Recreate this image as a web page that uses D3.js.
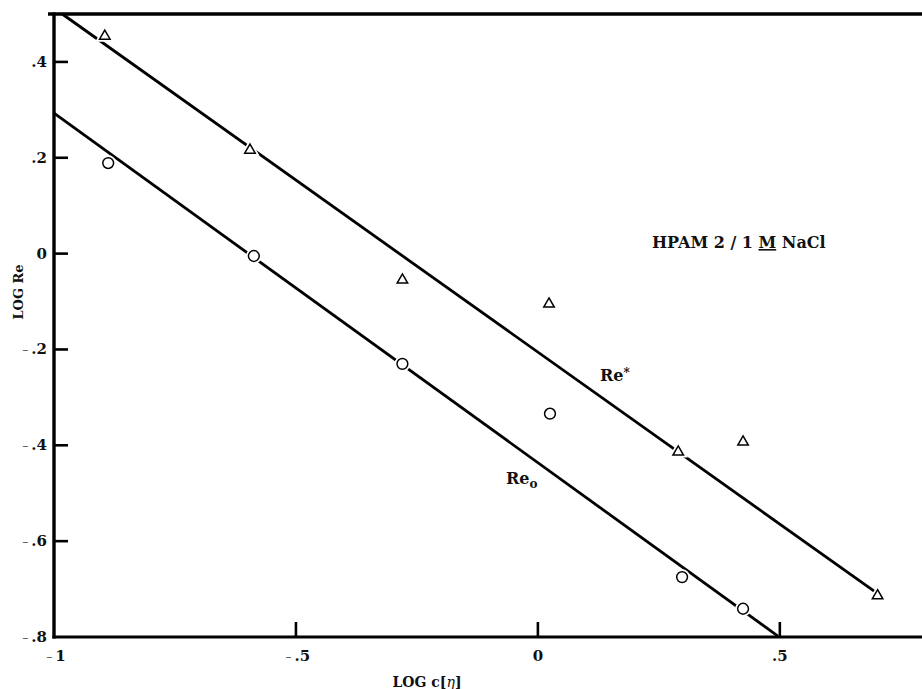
<!DOCTYPE html>
<html>
<head>
<meta charset="utf-8">
<script src="https://cdn.jsdelivr.net/npm/d3@7"></script>
<style>
  body { margin: 0; background: #fff; }
  text { font-family: "DejaVu Serif", "Liberation Serif", serif; font-weight: bold; fill: #111; }
</style>
</head>
<body>
<script>
// data: LOG c[eta] vs LOG Re
var xStar = [-0.895, -0.595, -0.28, 0.023, 0.29, 0.424, 0.702];
var yStar = [0.456, 0.218, -0.053, -0.103, -0.412, -0.391, -0.712];
var xO = [-0.888, -0.587, -0.28, 0.025, 0.298, 0.424];
var yO = [0.189, -0.005, -0.23, -0.334, -0.675, -0.741];
// fitted straight lines (end points)
var lineStar = [[-0.983, 0.5], [0.70, -0.708]];
var lineO = [[-1, 0.293], [0.496, -0.798]];
var xTicks = [-1, -0.5, 0, 0.5];
var xTickLabels = ["-1", "-.5", "0", ".5"];
var yTicks = [0.4, 0.2, 0, -0.2, -0.4, -0.6, -0.8];
var yTickLabels = [".4", ".2", "0", "-.2", "-.4", "-.6", "-.8"];

var width = 922,
    height = 689;

var svg = d3.select("body").append("svg")
    .attr("width", width)
    .attr("height", height);

var x = d3.scaleLinear().domain([-1, 0.8]).range([54, 925]);
var y = d3.scaleLinear().domain([-0.8, 0.5]).range([637, 14]);

// frame: left, bottom, top (no right border)
svg.append("line").attr("x1", x(-1)).attr("x2", x(-1)).attr("y1", y(0.5) - 1.5).attr("y2", y(-0.8) + 1.5)
    .attr("stroke", "#000").attr("stroke-width", 3.4);
svg.append("line").attr("x1", x(-1) - 1.5).attr("x2", width).attr("y1", y(-0.8)).attr("y2", y(-0.8))
    .attr("stroke", "#000").attr("stroke-width", 3.2);
svg.append("line").attr("x1", x(-1) - 6).attr("x2", width).attr("y1", y(0.5)).attr("y2", y(0.5))
    .attr("stroke", "#000").attr("stroke-width", 3.4);

// inward ticks
svg.selectAll(".ytick").data(yTicks.slice(0, -1)).enter()
    .append("line")
    .attr("class", "ytick")
    .attr("x1", x(-1)).attr("x2", x(-1) + 14)
    .attr("y1", function(d){ return y(d); })
    .attr("y2", function(d){ return y(d); })
    .attr("stroke", "#000").attr("stroke-width", 2.6);

svg.selectAll(".xtick").data(xTicks.slice(1)).enter()
    .append("line")
    .attr("class", "xtick")
    .attr("x1", function(d){ return x(d); })
    .attr("x2", function(d){ return x(d); })
    .attr("y1", y(-0.8)).attr("y2", y(-0.8) - 15)
    .attr("stroke", "#000").attr("stroke-width", 2.6);

// tick labels, minus drawn as a thin dash
function addLabel(sel, s) {
    if (s.charAt(0) == "-") {
        sel.append("tspan").text("\u2013").style("font-weight", "normal").style("fill", "#555").style("font-size", "12px");
        sel.append("tspan").text("\u2009" + s.slice(1));
    } else {
        sel.append("tspan").text(s);
    }
}

svg.selectAll(".ylab").data(yTicks).enter()
    .append("text")
    .attr("class", "ylab")
    .attr("x", 47)
    .attr("y", function(d){ return y(d) + 5; })
    .attr("text-anchor", "end")
    .style("font-size", "15px")
    .each(function(d, i){ addLabel(d3.select(this), yTickLabels[i]); });

svg.selectAll(".xlab").data(xTicks).enter()
    .append("text")
    .attr("class", "xlab")
    .attr("x", function(d){ return x(d) + (d < 0 ? 2 : 0); })
    .attr("y", 661)
    .attr("text-anchor", "middle")
    .style("font-size", "15px")
    .each(function(d, i){ addLabel(d3.select(this), xTickLabels[i]); });

// axis titles
svg.append("text")
    .attr("transform", "translate(23,292) rotate(-90)")
    .attr("text-anchor", "middle")
    .style("font-size", "13px")
    .text("LOG Re");

var xt = svg.append("text")
    .attr("x", 427).attr("y", 687)
    .attr("text-anchor", "middle")
    .style("font-size", "14px");
xt.append("tspan").text("LOG c[");
xt.append("tspan").text("\u03b7").style("font-style", "italic").style("font-weight", "normal");
xt.append("tspan").text("]");

// fitted lines
var line = d3.line()
    .x(function(d){ return x(d[0]); })
    .y(function(d){ return y(d[1]); });

svg.append("path").datum(lineStar)
    .attr("d", line).attr("fill", "none").attr("stroke", "#000").attr("stroke-width", 2.8);
svg.append("path").datum(lineO)
    .attr("d", line).attr("fill", "none").attr("stroke", "#000").attr("stroke-width", 2.8);

// markers
var starData = xStar.map(function(v, i){ return [v, yStar[i]]; });
var oData = xO.map(function(v, i){ return [v, yO[i]]; });

var tri = d3.symbol().type(d3.symbolTriangle).size(48);

svg.selectAll(".tri-halo").data(starData).enter()
    .append("path")
    .attr("d", tri)
    .attr("transform", function(d){ return "translate(" + x(d[0]) + "," + (y(d[1]) + 1) + ")"; })
    .attr("fill", "#fff").attr("stroke", "#fff").attr("stroke-width", 5);
svg.selectAll(".tri").data(starData).enter()
    .append("path")
    .attr("d", tri)
    .attr("transform", function(d){ return "translate(" + x(d[0]) + "," + (y(d[1]) + 1) + ")"; })
    .attr("fill", "#fff").attr("stroke", "#000").attr("stroke-width", 1.5);

svg.selectAll(".dot-halo").data(oData).enter()
    .append("circle")
    .attr("cx", function(d){ return x(d[0]); })
    .attr("cy", function(d){ return y(d[1]); })
    .attr("r", 5.4)
    .attr("fill", "#fff").attr("stroke", "#fff").attr("stroke-width", 5);
svg.selectAll(".dot").data(oData).enter()
    .append("circle")
    .attr("cx", function(d){ return x(d[0]); })
    .attr("cy", function(d){ return y(d[1]); })
    .attr("r", 5.4)
    .attr("fill", "#fff").attr("stroke", "#000").attr("stroke-width", 1.5);

// annotations
var ht = svg.append("text").attr("x", 652).attr("y", 248).style("font-size", "16px");
ht.append("tspan").text("HPAM 2 / 1 ");
ht.append("tspan").text("M").style("text-decoration", "underline");
ht.append("tspan").text(" NaCl");

var rs = svg.append("text").attr("x", 600).attr("y", 381).style("font-size", "16px");
rs.append("tspan").text("Re");
rs.append("tspan").text("*").attr("dy", -4).style("font-size", "12px");

var ro = svg.append("text").attr("x", 506).attr("y", 484).style("font-size", "16px");
ro.append("tspan").text("Re");
ro.append("tspan").text("o").attr("dy", 4).style("font-size", "12px");
</script>
</body>
</html>
